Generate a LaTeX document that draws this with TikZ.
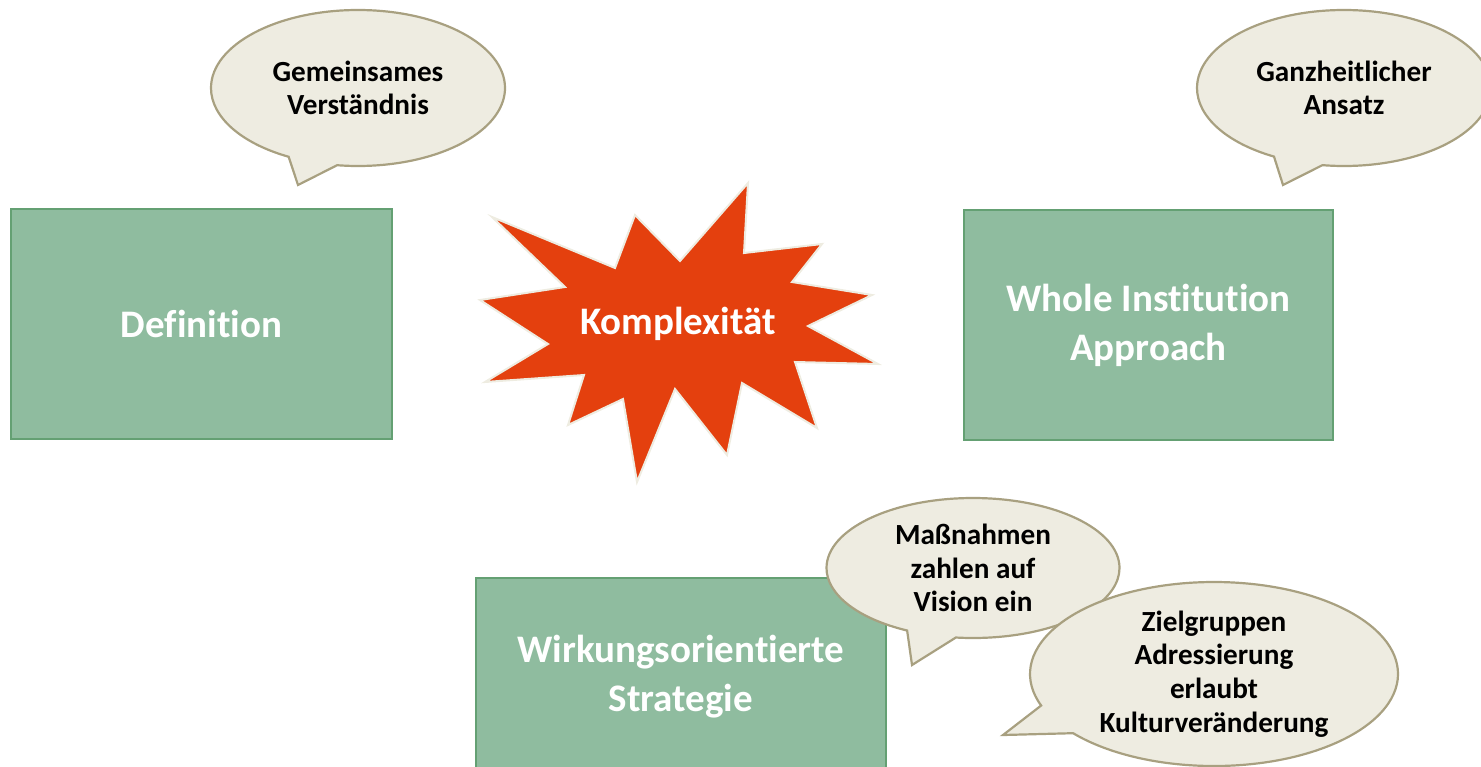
\documentclass[tikz,border=0pt]{standalone}
\usepackage{fontspec}
\setmainfont{Carlito}[Ligatures=CommonOff]
\usetikzlibrary{shapes.callouts}
\definecolor{boxgreen}{RGB}{143,188,159}
\definecolor{boxline}{RGB}{100,160,115}
\definecolor{bubblefill}{RGB}{238,236,225}
\definecolor{bubbleline}{RGB}{168,160,128}
\definecolor{burstred}{RGB}{228,64,14}
\begin{document}
\begin{tikzpicture}[x=0.5pt,y=-0.5pt,
    box/.style={draw=boxline,line width=1pt,fill=boxgreen,text=white,align=center,inner sep=0pt,
      font=\bfseries\fontsize{19.5}{24.5}\selectfont},
    bubble/.style={ellipse callout,callout pointer arc=20,draw=bubbleline,line width=1.1pt,fill=bubblefill,
      align=center,inner sep=0pt,font=\bfseries\fontsize{14.6}{16.8}\selectfont}]
  \useasboundingbox (0,0) rectangle (1481,766);
  \clip (0,0) rectangle (1481,766);

  % green boxes
  \node[box,minimum width=190.5pt,minimum height=115pt] (definition) at (201.5,323.5) {Definition};
  \node[box,minimum width=184.5pt,minimum height=115pt] (whole) at (1148.5,325) {Whole Institution\\Approach};
  \node[box,minimum width=205pt,minimum height=99pt] (strategy) at (681,677) {Wirkungsorientierte\\Strategie};

  % starburst
  \draw[line width=1pt,draw=bubblefill,fill=burstred] (492,217) -- (615,268) -- (635,215) -- (680,261)
    -- (748,183) -- (744,253) -- (822,244) -- (792,282) -- (872,295) -- (808,326) -- (878,364)
    -- (795,362) -- (817,428) -- (742,383) -- (727,455) -- (675,389) -- (637,482) -- (623,399)
    -- (568,425) -- (584,375) -- (485,382) -- (548,344) -- (480,300) -- (565,287) -- cycle;
  \node[text=white,font=\bfseries\fontsize{19.5}{24.5}\selectfont] (komplex) at (678,324) {Komplexität};

  % speech bubbles
  \node[bubble,minimum width=147pt,minimum height=78pt,callout absolute pointer={(298,185)}] (verstaendnis)
    at (358,88) {Gemeinsames\\Verständnis};
  \node[bubble,minimum width=147pt,minimum height=78pt,callout absolute pointer={(1283,185)}] (ansatz)
    at (1344,88) {Ganzheitlicher\\Ansatz};
  \node[bubble,minimum width=146.5pt,minimum height=70pt,callout absolute pointer={(912,665)}] (vision)
    at (973,568) {Maßnahmen\\zahlen auf\\Vision ein};
  \node[bubble,minimum width=184pt,minimum height=92pt,callout absolute pointer={(1003,735)}] (kultur)
    at (1214,674) {Zielgruppen\\Adressierung\\erlaubt\\Kulturveränderung};
\end{tikzpicture}
\end{document}
